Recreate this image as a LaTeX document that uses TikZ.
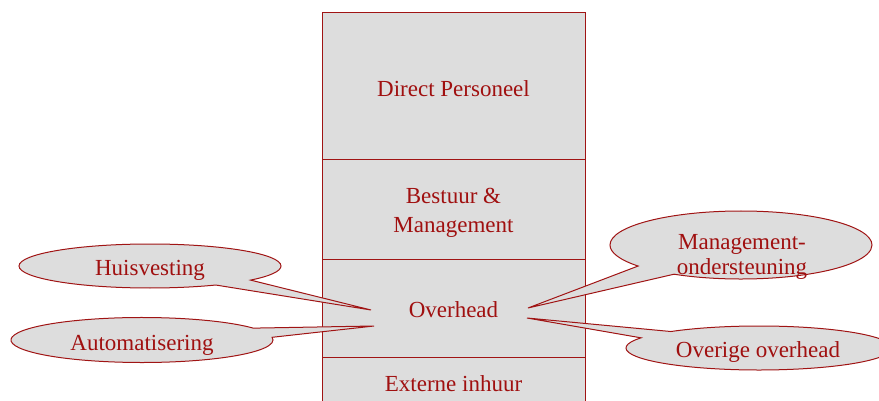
\documentclass[tikz,border=0pt]{standalone}
\usepackage{fontspec}
\setmainfont{Liberation Serif}
\usetikzlibrary{shapes.callouts}
\definecolor{lred}{RGB}{160,20,20}
\definecolor{tred}{RGB}{160,16,16}
\definecolor{boxgray}{RGB}{221,221,221}
\begin{document}
\begin{tikzpicture}[x=1pt,y=-1pt,
  sect/.style={draw=lred, fill=boxgray, line width=1pt, minimum width=263pt, inner sep=0pt},
  bubble/.style={ellipse callout, draw=lred, fill=boxgray, line width=1pt, inner sep=0pt, outer sep=0pt},
  lbl/.style={text=tred, font=\fontsize{23}{27}\selectfont, align=center, inner sep=0pt}]
\useasboundingbox (0,0) rectangle (879,401);
\clip (0,0) rectangle (879,401);
% stacked box
\node[sect, minimum height=147pt] (dp) at (453.5,86.5) {};
\node[sect, minimum height=99pt] (bm) at (453.5,209.5) {};
\node[sect, minimum height=98pt] (oh) at (453.5,308) {};
\node[sect, minimum height=52pt] (ei) at (453.5,383) {};
\node[lbl] (tdp) at (453.5,88.5) {Direct Personeel};
\node[lbl, font=\fontsize{23}{29}\selectfont] (tbm) at (453.5,213) {Bestuur \&\\Management};
\node[lbl] (toh) at (453.5,310) {Overhead};
\node[lbl] (tei) at (453.5,384) {Externe inhuur};
% callout tips
\coordinate (tH) at (371,310);
\coordinate (tA) at (374,326);
\coordinate (tM) at (528,308);
\coordinate (tO) at (527,318);
% callouts
\node[bubble, minimum width=262pt, minimum height=44pt, callout pointer arc=20, callout absolute pointer={(tH)}] (cH) at (150,266) {};
\node[bubble, minimum width=262pt, minimum height=45pt, callout pointer arc=25, callout absolute pointer={(tA)}] (cA) at (142,340) {};
\node[bubble, minimum width=262pt, minimum height=68pt, callout pointer arc=21, callout absolute pointer={(tM)}] (cM) at (741,245) {};
\node[bubble, minimum width=266pt, minimum height=44pt, callout pointer arc=21, callout absolute pointer={(tO)}] (cO) at (759,348) {};
% labels
\node[lbl] (lH) at (150,270) {Huisvesting};
\node[lbl] (lA) at (142,345) {Automatisering};
\node[lbl, font=\fontsize{23}{25}\selectfont] (lM) at (742,257) {Management-\\ondersteuning};
\node[lbl] (lO) at (758,352) {Overige overhead};
\end{tikzpicture}
\end{document}
